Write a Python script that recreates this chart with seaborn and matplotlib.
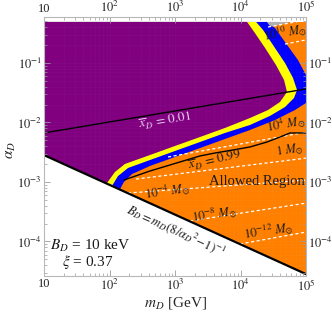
import numpy as np
import seaborn as sns
import matplotlib.pyplot as plt
from matplotlib.ticker import FixedLocator, NullFormatter

sns.set_style('ticks')
plt.rcParams['font.family'] = ['Liberation Serif', 'DejaVu Serif']
plt.rcParams['mathtext.fontset'] = 'stix'

# region boundaries (m_D in GeV, alpha_D)
A_TOP = 0.49
inner_m = [82.4, 91.6, 121, 172, 415, 1000, 2410, 5800, 13960, 26300, 40100, 51300, 46200, 34800, 23700, 16600, 12600]
inner_a = [6.05e-4, 9.6e-4, 1.47e-3, 2.01e-3, 2.84e-3, 4.03e-3, 5.70e-3, 8.09e-3, 0.0119, 0.0162, 0.0221, 0.0326, 0.0518, 0.0925, 0.179, 0.319, A_TOP]
middle_m = [102, 109, 135, 192, 415, 1000, 2410, 5800, 13960, 28200, 47800, 65600, 72900, 63400, 47800, 31300, 22100, 17300]
middle_a = [5.38e-4, 8.57e-4, 1.26e-3, 1.72e-3, 2.34e-3, 3.32e-3, 4.70e-3, 6.67e-3, 9.08e-3, 0.0129, 0.0182, 0.0258, 0.0352, 0.0560, 0.1, 0.201, 0.359, A_TOP]
outer_m = [130, 145, 166, 221, 415, 1000, 2410, 5800, 13960, 33700, 67900, 1e5, 123000, 1e5, 75500, 47800, 33700, 25400]
outer_a = [5.38e-4, 7.62e-4, 1.0e-3, 1.36e-3, 1.86e-3, 2.63e-3, 3.72e-3, 5.28e-3, 7.48e-3, 0.0110, 0.0162, 0.0213, 0.0352, 0.0628, 0.112, 0.225, 0.387, A_TOP]
gray_m = [25400, 57000, 30300, 27500]
gray_a = [A_TOP, A_TOP, 0.41, 0.43]

# lines
bd_m = [10, 1e5]
bd_a = [2.83e-3, 2.83e-5]
x001_m = [10, 1e5]
x001_a = [6.67e-3, 0.0366]
x099_m = [166, 415, 1190, 2410, 4080, 7670, 13960, 25400, 40100, 57000, 1e5]
x099_a = [1.08e-3, 1.53e-3, 2.17e-3, 2.74e-3, 3.07e-3, 3.45e-3, 3.88e-3, 4.70e-3, 5.70e-3, 6.67e-3, 6.67e-3]

# mass contours (start, end)
mass_lines = {
    '12': ([26300, 1e5], [0.403, 0.528]),
    '10': ([47800, 1e5], [0.208, 0.244]),
    '4': ([782, 1.04e5], [2.63e-3, 6.92e-3]),
    '0': ([254, 1.04e5], [1.12e-3, 2.53e-3]),
    '-4': ([192, 1.04e5], [6.53e-4, 1.08e-3]),
    '-8': ([1690, 1.04e5], [2.21e-4, 4.44e-4]),
    '-12': ([9820, 1.04e5], [9.08e-5, 1.45e-4]),
}
mass_labels = [
    (r'$10^{10}\ M_{\odot}$', 47800, 0.332, 10),
    (r'$10^{4}\ M_{\odot}$', 49500, 9.44e-3, 10),
    (r'$1\ M_{\odot}$', 57000, 3.45e-3, 8),
    (r'$10^{-4}\ M_{\odot}$', 755, 7.06e-4, 8),
    (r'$10^{-8}\ M_{\odot}$', 3940, 2.90e-4, 8),
    (r'$10^{-12}\ M_{\odot}$', 26300, 1.50e-4, 8),
]

XMIN, XMAX = 10, 1e5
YMIN, YMAX = 2.63e-5, 0.593

fig = plt.figure(figsize=(3.32, 3.16), dpi=100)
ax = fig.add_axes([44 / 332, 40 / 316, 262 / 332, 259 / 316])
ax.set_xscale('log')
ax.set_yscale('log')

ax.fill([XMIN, XMAX, XMAX, XMIN], [YMIN, YMIN, A_TOP, A_TOP], color='#ff8000', lw=0, zorder=1)
ax.fill([XMIN] + outer_m + [XMIN], [YMIN] + outer_a + [A_TOP], color='#0000ff', lw=0, zorder=1.1)
ax.fill([XMIN] + middle_m + [XMIN], [YMIN] + middle_a + [A_TOP], color='#ffff00', lw=0, zorder=1.2)
ax.fill([XMIN] + inner_m + [XMIN], [YMIN] + inner_a + [A_TOP], color='#800080', lw=0, zorder=1.3)
ax.fill(gray_m, gray_a, color='#b0b0b0', lw=0, zorder=1.3)
ax.fill(bd_m + [XMAX, XMIN], bd_a + [YMIN, YMIN], color='white', lw=0, zorder=1.5)

for key, (mm, aa) in mass_lines.items():
    sns.lineplot(x=mm, y=aa, ax=ax, color='white', lw=0.9, linestyle=(0, (2.5, 2)), sort=False, zorder=2)
sns.lineplot(x=x001_m, y=x001_a, ax=ax, color='black', lw=1.0, sort=False, zorder=2.2)
sns.lineplot(x=x099_m, y=x099_a, ax=ax, color='black', lw=1.0, sort=False, zorder=2.2)
sns.lineplot(x=bd_m, y=bd_a, ax=ax, color='black', lw=1.6, sort=False, zorder=2.2)

for txt, xm, ya, rot in mass_labels:
    ax.text(xm, ya, txt, fontsize=9, ha='center', va='center', rotation=rot, color='#1a1a1a', zorder=3)
ax.text(703, 0.0106, r'$\overline{x}_D\,=\,0.01$', fontsize=9.5, ha='center', va='center', rotation=9.5, color='#e8d0f0', zorder=3)
ax.text(4080, 2.25e-3, r'$\overline{x}_D\,=\,0.99$', fontsize=9.5, ha='center', va='center', rotation=13, color='#1a1a1a', zorder=3)
ax.text(17900, 1.0e-3, 'Allowed Region', fontsize=10.5, ha='center', va='center', color='#1a1a1a', zorder=3)
ax.text(1035, 1.56e-4, r'$B_D = m_D(8/\alpha_D{}^2\!-\!1)^{-1}$', fontsize=9, ha='center', va='center', rotation=-24.4, color='#1a1a1a', zorder=3)
ax.text(50.3, 8.4e-5, r'$B_D$ = 10 keV', fontsize=11, ha='center', va='center', color='#1a1a1a', zorder=3)
ax.text(47, 4.52e-5, r'$\xi$ = 0.37', fontsize=11, ha='center', va='center', color='#1a1a1a', zorder=3)

ax.set_xlim(XMIN, XMAX)
ax.set_ylim(YMIN, YMAX)

xt = [10, 100, 1e3, 1e4, 1e5]
xl = ['10', r'$10^{2}$', r'$10^{3}$', r'$10^{4}$', r'$10^{5}$']
yt = [1e-4, 1e-3, 1e-2, 1e-1]
yl = [r'$10^{-4}$', r'$10^{-3}$', r'$10^{-2}$', r'$10^{-1}$']
ax.xaxis.set_major_locator(FixedLocator(xt))
ax.set_xticklabels(xl)
ax.yaxis.set_major_locator(FixedLocator(yt))
ax.set_yticklabels(yl)
xminor = [k * 10.0 ** e for e in range(1, 5) for k in range(2, 10)]
yminor = [k * 10.0 ** e for e in range(-5, 0) for k in range(2, 10)]
ax.xaxis.set_minor_locator(FixedLocator(xminor))
ax.yaxis.set_minor_locator(FixedLocator(yminor))
ax.xaxis.set_minor_formatter(NullFormatter())
ax.yaxis.set_minor_formatter(NullFormatter())

ax.grid(which='both', color='white', alpha=0.035, lw=0.5)
ax.set_axisbelow(False)

ax.tick_params(which='both', direction='in', top=True, right=True, labeltop=True, labelright=True,
               color='#9a9a9a', labelsize=9, labelcolor='#222222', pad=1.5)
ax.tick_params(which='major', length=4, width=0.6)
ax.tick_params(which='minor', length=2, width=0.5)
for s in ax.spines.values():
    s.set_color('#b8b8b8')
    s.set_linewidth(0.8)
    s.set_zorder(5)

ax.set_xlabel(r'$m_D$ [GeV]', fontsize=11, labelpad=1)
ax.set_ylabel(r'$\alpha_D$', fontsize=11)
ax.yaxis.set_label_coords(-0.10, 0.486)

fig.savefig('out.png', dpi=100)
